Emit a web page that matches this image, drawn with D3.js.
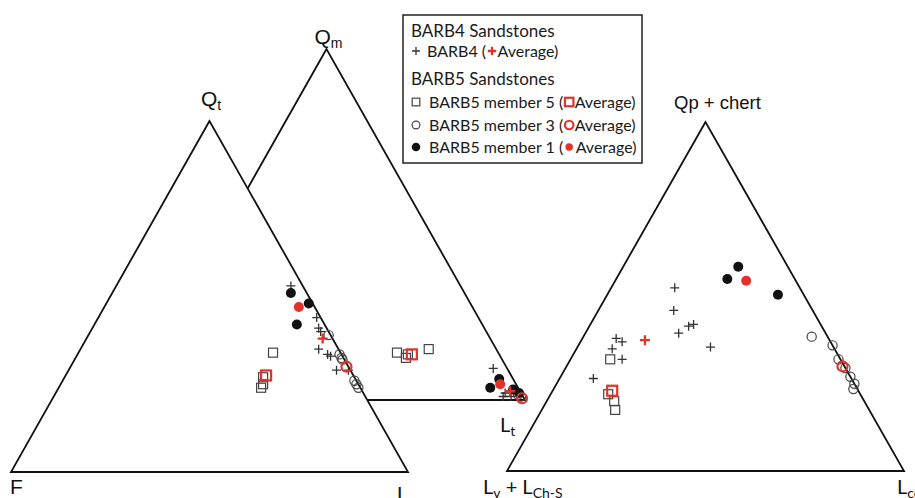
<!DOCTYPE html>
<html><head><meta charset="utf-8">
<script src="https://cdn.jsdelivr.net/npm/d3@7"></script>
<style>html,body{margin:0;padding:0;background:#fff;overflow:hidden}svg{display:block}</style>
</head><body>
<svg id="c" width="915" height="498"></svg>
<script>
// ---------- DATA (ternary percentages: [top, left, right]) ----------
// QFL diagram: [Qt, F, L]
const qflBarb4   = [[53,3,44],[44,1,55],[41,2,57],[40,2,58],[35,5,60],[33.5,3.5,63],[33,3,64],[29,3.5,67.5],[29,0.5,70.5]];
const qflBarb4Avg= [[38,2.5,59.5]];
const qflM5      = [[34,17,49],[27,23,50],[25,24,51],[24,25,51]];
const qflM5Avg   = [[27.5,22,50.5]];
const qflM3      = [[39,0.5,60.5],[33.5,0.5,66],[32.5,0.5,67],[32,0.5,67.5],[26,0.5,73.5],[25,0.5,74.5],[24,0.5,75.5]];
const qflM3Avg   = [[30,0.5,69.5]];
const qflM1      = [[51,4,45],[48,1,51],[42,7,51]];
const qflM1Avg   = [[47,4,49]];
// QmFLt diagram: [Qm, F, Lt]
const qmBarb4    = [[9,3.5,87.5],[2,4,94],[1,5,94],[1,3,96]];
const qmBarb4Avg = [[2.5,2.5,95]];
const qmM5       = [[13.5,25.5,61],[12,24,64],[13,23,64],[14.5,17,68.5]];
const qmM5Avg    = [[13,22,65]];
const qmM3       = [[1.5,1,97.5],[1,0.5,98.5]];
const qmM3Avg    = [[0.5,0.5,99]];
const qmM1       = [[6,3.5,90.5],[3.5,7,89.5],[3,1.5,95.5],[2,0.5,97.5]];
const qmM1Avg    = [[4.5,4,91.5]];
// Lithic diagram: [Qp + chert, Lv + LCh-S, Lcc]
const lcBarb4    = [[52.5,31.5,16],[46,35,19],[39.5,37,23.5],[41.5,33.5,25],[42,32,26],[35.5,31,33.5],[38,53.5,8.5],[37,52.5,10.5],[35,56,9],[32,55,13],[26.5,65,8.5]];
const lcBarb4Avg = [[37.5,46.5,16]];
const lcM5       = [[32,58,10],[22,63.5,14.5],[20,63,17],[17.5,64,18.5]];
const lcM5Avg    = [[23,62,15]];
const lcM3       = [[38.5,4,57.5],[36,0,64],[32,0.5,67.5],[29.5,0,70.5],[27,0,73],[25,0,75],[23.5,1,75.5]];
const lcM3Avg    = [[30,0.5,69.5]];
const lcM1       = [[58.5,12.5,29],[55,17,28],[50.5,6.5,43]];
const lcM1Avg    = [[54.5,12.5,33]];

const legendTitles = ["BARB4 Sandstones","BARB5 Sandstones"];
const legendSeries = ["BARB4 (","BARB5 member 5 (","BARB5 member 3 (","BARB5 member 1 ("];
const legendAvgText = "Average)";

// ---------- STYLE / LAYOUT ----------
const RED="#e3312b", INK="#111", GREY="#444";
const svg=d3.select("#c");

function ternary(xr, yr){
  const xs=d3.scaleLinear().domain([0,100]).range(xr);
  const ys=d3.scaleLinear().domain([0,100]).range(yr);
  return d=>[xs(d[2]+d[0]/2), ys(d[0])];
}
const pQFL = ternary([11,408],[472,121]);
const pQm  = ternary([128,525],[400,49]);
const pLc  = ternary([507,904],[471,122]);
const corners=[[100,0,0],[0,100,0],[0,0,100]];
const line=d3.line();

function tri(g,p,fill){
  g.append("path").attr("d",line(corners.map(p))+"Z")
   .attr("fill",fill).attr("stroke",INK).attr("stroke-width",1.8).attr("stroke-linejoin","miter");
}

function marker(g,type,avg,x,y,s=1){
  if(type==="cross"){
    const r=(avg?5:4.5)*s;
    g.append("path").attr("d",`M${x-r},${y}H${x+r}M${x},${y-r}V${y+r}`)
     .attr("stroke",avg?RED:"#333").attr("stroke-width",avg?2.3:1.3).attr("fill","none");
  } else if(type==="square"){
    const r=(avg?5:4.5)*s;
    g.append("rect").attr("x",x-r).attr("y",y-r).attr("width",2*r).attr("height",2*r)
     .attr("fill","none").attr("stroke",avg?RED:GREY).attr("stroke-width",avg?2.2:1.2);
  } else if(type==="circle"){
    const r=(avg?5:4.6)*s;
    g.append("circle").attr("cx",x).attr("cy",y).attr("r",r)
     .attr("fill","none").attr("stroke",avg?RED:GREY).attr("stroke-width",avg?2.2:1.2);
  } else {
    g.append("circle").attr("cx",x).attr("cy",y).attr("r",5*s)
     .attr("fill",avg?RED:INK);
  }
}
function plot(g,p,data,type,avg){
  data.forEach(d=>{const [x,y]=p(d); marker(g,type,avg,x,y);});
}

// triangles (QmFLt behind QFL)
const gT=svg.append("g");
tri(gT,pQm,"none");
tri(gT,pQFL,"#fff");
tri(gT,pLc,"none");

const gP=svg.append("g");
[[pQFL,qflM5,qflM3,qflBarb4,qflM1,qflM5Avg,qflM3Avg,qflBarb4Avg,qflM1Avg],
 [pQm,qmM5,qmM3,qmBarb4,qmM1,qmM5Avg,qmM3Avg,qmBarb4Avg,qmM1Avg],
 [pLc,lcM5,lcM3,lcBarb4,lcM1,lcM5Avg,lcM3Avg,lcBarb4Avg,lcM1Avg]].forEach(s=>{
  const p=s[0];
  plot(gP,p,s[1],"square",false);
  plot(gP,p,s[2],"circle",false);
  plot(gP,p,s[3],"cross",false);
  plot(gP,p,s[4],"dot",false);
  plot(gP,p,s[5],"square",true);
  plot(gP,p,s[6],"circle",true);
  plot(gP,p,s[7],"cross",true);
  plot(gP,p,s[8],"dot",true);
});

// ---------- LABELS ----------
const ARIAL="'Liberation Sans', Arial, sans-serif", HUM="Lato, 'Open Sans', sans-serif";
function label(x,y,main,sub,font,size,subSize){
  const t=svg.append("text").attr("x",x).attr("y",y).attr("font-family",font)
    .attr("font-size",size).attr("fill","#111");
  t.append("tspan").text(main);
  if(sub){ t.append("tspan").attr("dy",subSize*0.3).attr("font-size",subSize).text(sub); }
  return t;
}
label(201,106,"Q","t",ARIAL,21,14);
label(314.5,44,"Q","m",ARIAL,21,14);
label(10,494,"F",null,ARIAL,21);
label(397,501,"L",null,ARIAL,21);
svg.append("text").attr("x",674).attr("y",109).attr("font-family",ARIAL).attr("font-size",18.5)
   .attr("fill","#111").text("Qp + chert");
label(500,432,"L","t",HUM,20,14);
label(897,494,"L","cc",HUM,20,14);
{
  const t=svg.append("text").attr("x",483).attr("y",494).attr("font-family",HUM).attr("font-size",20).attr("fill","#111");
  t.append("tspan").text("L");
  t.append("tspan").attr("dy",4).attr("font-size",14).text("v");
  t.append("tspan").attr("dy",-4).text(" + L");
  t.append("tspan").attr("dy",4).attr("font-size",14).text("Ch-S");
}

// ---------- LEGEND ----------
const gL=svg.append("g");
gL.append("rect").attr("x",403).attr("y",15).attr("width",239).attr("height",148)
  .attr("fill","#fff").attr("stroke","#222").attr("stroke-width",1.5);
function ltext(x,y,s,fs){
  return gL.append("text").attr("x",x).attr("y",y).attr("font-family",HUM)
    .attr("font-size",fs).attr("fill","#1a1a1a").text(s);
}
ltext(411,37,legendTitles[0],17);
ltext(411,85,legendTitles[1],17);
const rows=[{y:57,type:"cross",tx:427},{y:108,type:"square",tx:429},{y:131,type:"circle",tx:429},{y:153,type:"dot",tx:429}];
rows.forEach((r,i)=>{
  const cy=r.y-6;
  const sm=r.type==="cross"?0.9:0.85;
  marker(gL,r.type,false,416,cy,sm);
  const t=ltext(r.tx,r.y,legendSeries[i],16);
  const end=r.tx+t.node().getComputedTextLength();
  const avgScale=r.type==="dot"?0.75:0.85;
  marker(gL,r.type,true,end+6,cy,avgScale);
  ltext(end+(r.type==="dot"?12.5:11.5),r.y,legendAvgText,16);
});
</script>
</body></html>
